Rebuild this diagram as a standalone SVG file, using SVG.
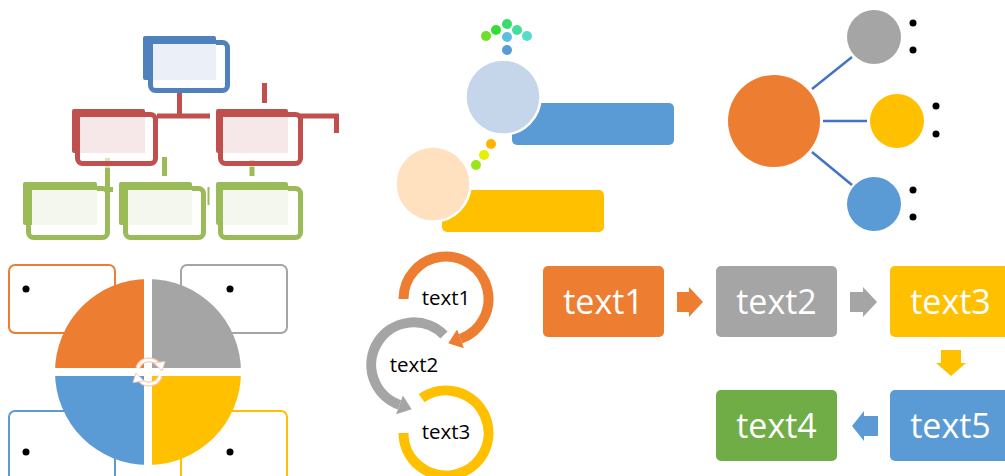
<svg xmlns="http://www.w3.org/2000/svg" width="1005" height="476" viewBox="0 0 1005 476">
<style>
.t{font-family:"Open Sans","Liberation Sans",sans-serif;text-anchor:middle}
.big{font-size:34px;fill:#fff}
.sm{font-size:20.5px;fill:#000}
.dot{fill:#000}
.box{fill:#fff;stroke-width:2}
.frame{fill:none;stroke-width:5}
</style>
<defs/>
<rect width="1005" height="476" fill="#fff"/>

<!-- connectors -->
<g id="connectors">
  <g fill="none" stroke-width="5">
    <path d="M179.5 93 V116 M157 116 H210" stroke="#C0504D"/>
    <path d="M264.5 83 V103" stroke="#C0504D"/>
    <path d="M298 116 H336.5 V133" stroke="#C0504D"/>
    <path d="M107.5 168 V192 M107.5 189.5 H113" stroke="#9BBB59"/>
    <path d="M107.5 158 V168" stroke="#D7E4BD"/>
    <path d="M164.5 157 V176" stroke="#9BBB59"/>
    <path d="M252 167 V176" stroke="#9BBB59"/>
    <path d="M252 160 V167" stroke="#D7E4BD"/>
  </g>
  <path d="M208.5 187 V205" stroke="#9BBB59" stroke-width="2"/>
  <g stroke="#4472C4" stroke-width="2.5">
    <line x1="812" y1="89" x2="852" y2="57"/>
    <line x1="823" y1="121" x2="867" y2="121"/>
    <line x1="812" y1="152" x2="852" y2="185"/>
  </g>
</g>

<!-- org chart -->
<g id="org-top">
  <rect x="143" y="36" width="73" height="44" rx="2" fill="#4F81BD"/>
  <rect x="150.5" y="42.5" width="77" height="48" rx="5" class="frame" stroke="#4F81BD"/>
  <rect x="153" y="44" width="63" height="36" fill="#EBF0F8"/>
</g>
<g id="org-red-left">
  <rect x="72" y="109" width="73" height="44" rx="2" fill="#C0504D"/>
  <rect x="77.5" y="114.5" width="78" height="49" rx="5" class="frame" stroke="#C0504D"/>
  <rect x="80" y="117" width="65" height="36" fill="#F6E8E8"/>
</g>
<g id="org-red-right">
  <rect x="216" y="109" width="72" height="44" rx="2" fill="#C0504D"/>
  <rect x="220.5" y="114.5" width="80" height="49" rx="5" class="frame" stroke="#C0504D"/>
  <rect x="223" y="117" width="65" height="36" fill="#F6E8E8"/>
</g>
<g id="org-green-left">
  <rect x="23" y="182" width="74" height="43" rx="2" fill="#9BBB59"/>
  <rect x="28.5" y="188.5" width="79" height="49" rx="5" class="frame" stroke="#9BBB59"/>
  <rect x="32" y="190" width="65" height="35" fill="#F3F7EE"/>
</g>
<g id="org-green-mid">
  <rect x="119" y="182" width="73" height="43" rx="2" fill="#9BBB59"/>
  <rect x="125.5" y="188.5" width="78" height="49" rx="5" class="frame" stroke="#9BBB59"/>
  <rect x="128" y="190" width="64" height="35" fill="#F3F7EE"/>
</g>
<g id="org-green-right">
  <rect x="216" y="182" width="72" height="43" rx="2" fill="#9BBB59"/>
  <rect x="220.5" y="188.5" width="80" height="49" rx="5" class="frame" stroke="#9BBB59"/>
  <rect x="223" y="190" width="65" height="35" fill="#F3F7EE"/>
</g>

<!-- bubbles top middle -->
<g id="bubble-dots-top">
  <circle cx="486" cy="36" r="5" fill="#6BE025"/>
  <circle cx="496" cy="30" r="5" fill="#33DD33"/>
  <circle cx="507" cy="24" r="5" fill="#3ADB6A"/>
  <circle cx="517" cy="30" r="5" fill="#44DD99"/>
  <circle cx="527" cy="36" r="5" fill="#55DDCC"/>
  <circle cx="507" cy="37" r="5" fill="#5BC0DE"/>
  <circle cx="507" cy="50" r="5" fill="#5B9BD5"/>
</g>
<g id="bubble-blue">
  <rect x="512" y="103" width="162" height="42" rx="5" fill="#5B9BD5"/>
  <circle cx="503" cy="97" r="37.5" fill="#C5D6EB" stroke="#fff" stroke-width="2.5"/>
</g>
<g id="bubble-dots-mid">
  <circle cx="491" cy="144" r="5" fill="#FFB400"/>
  <circle cx="484" cy="155" r="5" fill="#E6F000"/>
  <circle cx="476" cy="165" r="5" fill="#99E619"/>
</g>
<g id="bubble-peach">
  <rect x="442" y="190" width="162" height="42" rx="5" fill="#FFC000"/>
  <circle cx="433" cy="184" r="37.5" fill="#FFE1C0" stroke="#fff" stroke-width="2.5"/>
</g>

<!-- hub top right -->
<g id="hub-center"><circle cx="774" cy="121" r="46" fill="#ED7D31"/></g>
<g id="hub-gray">
  <circle cx="874" cy="37" r="27" fill="#A5A5A5"/>
  <circle cx="913" cy="23" r="3.5" class="dot"/><circle cx="913" cy="50" r="3.5" class="dot"/>
</g>
<g id="hub-yellow">
  <circle cx="897" cy="121" r="27" fill="#FFC000"/>
  <circle cx="936" cy="106" r="3.5" class="dot"/><circle cx="936" cy="134" r="3.5" class="dot"/>
</g>
<g id="hub-blue">
  <circle cx="874" cy="204" r="27" fill="#5B9BD5"/>
  <circle cx="913" cy="190" r="3.5" class="dot"/><circle cx="913" cy="217" r="3.5" class="dot"/>
</g>

<!-- pie bottom left -->
<g id="pie-box-orange"><rect x="9" y="265" width="106" height="68" rx="6" class="box" stroke="#ED7D31"/><circle cx="26" cy="289" r="3.5" class="dot"/></g>
<g id="pie-box-gray"><rect x="181" y="265" width="106" height="68" rx="6" class="box" stroke="#A5A5A5"/><circle cx="230" cy="289" r="3.5" class="dot"/></g>
<g id="pie-box-blue"><rect x="9" y="411" width="106" height="70" rx="6" class="box" stroke="#5B9BD5"/><circle cx="26" cy="452" r="3.5" class="dot"/></g>
<g id="pie-box-yellow"><rect x="181" y="411" width="106" height="70" rx="6" class="box" stroke="#FFC000"/><circle cx="230" cy="452" r="3.5" class="dot"/></g>
<g id="pie">
  <path d="M148 372 H55 A93 93 0 0 1 148 279 Z" fill="#ED7D31"/>
  <path d="M148 372 V279 A93 93 0 0 1 241 372 Z" fill="#A5A5A5"/>
  <path d="M148 372 H241 A93 93 0 0 1 148 465 Z" fill="#FFC000"/>
  <path d="M148 372 V465 A93 93 0 0 1 55 372 Z" fill="#5B9BD5"/>
  <path d="M148 272 V470 M50 372 H246" stroke="#fff" stroke-width="8"/>
  <g fill="none" stroke-linecap="butt">
    <path d="M137.7 367.9 A12 12 0 0 1 159.4 366" stroke="#F6C9B8" stroke-width="5"/>
    <path d="M160.3 376.1 A12 12 0 0 1 138.6 378" stroke="#F6C9B8" stroke-width="5"/>
    <path d="M137.7 367.9 A12 12 0 0 1 159.4 366" stroke="#fff" stroke-width="2.6"/>
    <path d="M160.3 376.1 A12 12 0 0 1 138.6 378" stroke="#fff" stroke-width="2.6"/>
  </g>
  <polygon points="154.5,363 165,361.5 162,371" fill="#fff" stroke="#F6C9B8" stroke-width="1"/>
  <polygon points="143.5,381 133,382.5 136,373" fill="#fff" stroke="#F6C9B8" stroke-width="1"/>
</g>

<!-- circular arrows -->
<g id="cycle-3">
  <path d="M421.6 398.2 A42.5 42.5 0 1 1 403.5 433" fill="none" stroke="#FFC000" stroke-width="10"/>
  <text x="446" y="439" class="t sm">text3</text>
</g>
<g id="cycle-2">
  <path d="M444 335 A42.5 42.5 0 1 0 399.5 404.9" fill="none" stroke="#A5A5A5" stroke-width="10"/>
  <polygon points="396.1,414.3 402.9,395.5 411.7,409.3" fill="#A5A5A5"/>
  <text x="414" y="372" class="t sm">text2</text>
</g>
<g id="cycle-1">
  <path d="M403.5 299 A42.5 42.5 0 1 1 460.5 338.9" fill="none" stroke="#ED7D31" stroke-width="10"/>
  <polygon points="463.9,348.3 457.1,329.5 448.3,343.3" fill="#ED7D31"/>
  <text x="446" y="305" class="t sm">text1</text>
</g>

<!-- process bottom right -->
<g id="step-1"><rect x="543" y="266" width="121" height="71" rx="5" fill="#ED7D31"/><text x="603.5" y="313.5" class="t big">text1</text></g>
<g id="step-2"><rect x="716" y="266" width="121" height="71" rx="5" fill="#A5A5A5"/><text x="776.5" y="313.5" class="t big">text2</text></g>
<g id="step-3"><rect x="890" y="266" width="121" height="71" rx="5" fill="#FFC000"/><text x="950.5" y="313.5" class="t big">text3</text></g>
<g id="step-4"><rect x="716" y="390" width="121" height="71" rx="5" fill="#70AD47"/><text x="776.5" y="437.5" class="t big">text4</text></g>
<g id="step-5"><rect x="890" y="390" width="121" height="71" rx="5" fill="#5B9BD5"/><text x="950.5" y="437.5" class="t big">text5</text></g>
<g id="process-arrows">
  <polygon points="677,292 689,292 689,287 703,302 689,317 689,312 677,312" fill="#ED7D31"/>
  <polygon points="850,292 863,292 863,287 877,302 863,317 863,312 850,312" fill="#A5A5A5"/>
  <polygon points="941,350 961,350 961,363 966,363 951,376 936,363 941,363" fill="#FFC000"/>
  <polygon points="878,416 864,416 864,411 852,426 864,441 864,436 878,436" fill="#5B9BD5"/>
</g>
</svg>
